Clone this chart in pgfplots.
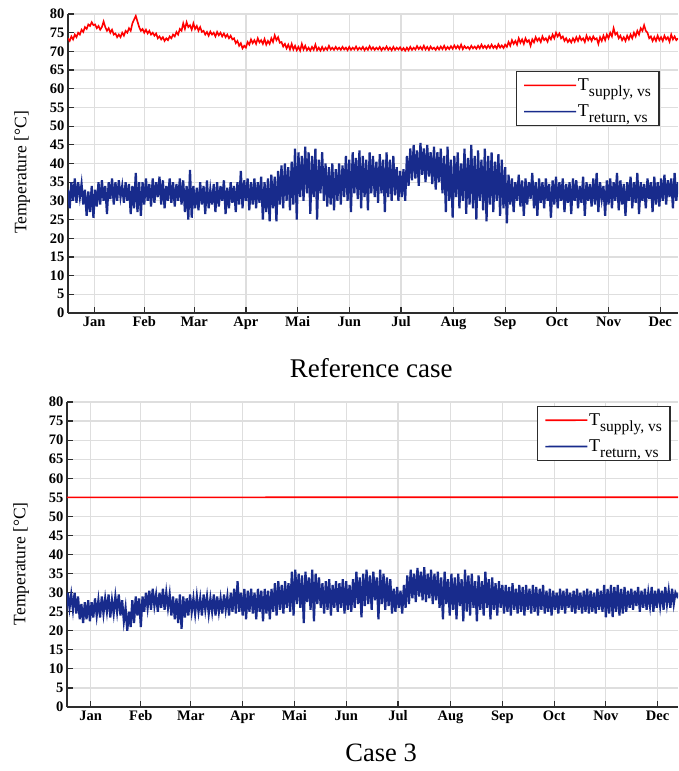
\documentclass[border=0pt]{standalone}
\usepackage{pgfplots}
\pgfplotsset{compat=1.18}
\usepackage{fontspec}
\setmainfont{Liberation Serif}

\definecolor{supred}{RGB}{255,0,0}
\definecolor{retblue}{RGB}{24,43,140}
\definecolor{gridgray}{RGB}{222,222,222}
\definecolor{axisgray}{RGB}{45,45,45}

\newcommand{\sub}[1]{\raisebox{-6pt}{\fontsize{15.5}{16}\selectfont #1}}

\pgfplotsset{
  tempaxis/.style={
    scale only axis,
    anchor=south west,
    ymin=0, ymax=80,
    ytick={0,5,...,80},
    xtick={15.5,45,74.5,105,135.5,166,196.5,227.5,258,288.5,319,349.5},
    xticklabels={Jan,Feb,Mar,Apr,Mai,Jun,Jul,Aug,Sep,Oct,Nov,Dec},
    axis x line*=bottom, axis y line*=left,
    axis line style={line width=1.3pt, draw=axisgray, -},
    tick align=inside, major tick length=6pt,
    tick style={line width=1.2pt, draw=axisgray},
    grid=major, grid style={line width=1.2pt, draw=gridgray},
    /pgf/number format/assume math mode=true,
    tick label style={font=\fontsize{14.5}{16}\selectfont\bfseries},
    ylabel={Temperature [°C]},
    ylabel style={font=\fontsize{17.5}{19}\selectfont, at={(axis description cs:-0.075,0.47)}, anchor=center, rotate=0},
    legend cell align=left,
    legend style={draw=axisgray, line width=1.3pt, fill=white,
      font=\fontsize{18}{19}\selectfont, inner xsep=7pt, inner ysep=6pt,
      row sep=11pt, nodes={inner sep=1pt}},
  },
}

\begin{document}
\begin{tikzpicture}
\path[use as bounding box] (0,0) rectangle (678pt,-771pt);

% Reference case
\begin{axis}[tempaxis,
  at={(68pt,-313pt)}, width=610pt, height=299pt,
  xmin=0, xmax=360,
  xlabel={Reference case},
  xlabel style={font=\fontsize{27}{30}\selectfont, at={(axis description cs:0.497,-0.215)}, anchor=base},
  legend image code/.code={\draw[#1, line width=1.6pt] (0pt,0pt) -- (52pt,0.1pt);},
  legend style={at={(axis description cs:0.734,0.809)}, anchor=north west},
]
\addplot[color=supred, line width=1.6pt] coordinates {
(0,73.5)(1,72.8)(2,74)(3,73.2)(4,74.5)(5,73.8)(6,75)(7,74.5)(8,75.8)(9,75.2)
(10,76.5)(11,76)(12,77.2)(13,76.8)(14,77.8)(15,77)(16,77.2)(17,76.2)(18,76.8)(19,75.8)
(20,76.5)(21,78)(22,76.5)(23,75.5)(24,76.2)(25,75)(26,75.8)(27,74.5)(28,74.8)(29,73.8)
(30,74.5)(31,73.8)(32,75)(33,74.2)(34,75.5)(35,75)(36,76.2)(37,75.5)(38,77.5)(39,78.5)
(40,79.5)(41,78)(42,76.5)(43,75.5)(44,76)(45,75)(46,75.8)(47,74.8)(48,75.5)(49,74.5)
(50,75)(51,74.2)(52,74.8)(53,73.5)(54,74)(55,73.2)(56,73.8)(57,72.8)(58,73.5)(59,73)
(60,74)(61,73.5)(62,74.5)(63,74)(64,75.2)(65,74.5)(66,76)(67,75.5)(68,77.5)(69,76)
(70,77.8)(71,76.5)(72,77)(73,75.8)(74,77.5)(75,76)(76,76.8)(77,75.5)(78,76.5)(79,75.2)
(80,75.5)(81,74.5)(82,75.2)(83,74.2)(84,75.3)(85,74.5)(86,75)(87,74)(88,75.2)(89,74.3)
(90,75)(91,74)(92,74.8)(93,73.8)(94,74.5)(95,73.5)(96,74.2)(97,73.2)(98,73.5)(99,72.2)
(100,72.8)(101,71.5)(102,72.2)(103,70.8)(104,71.5)(105,71)(106,72.5)(107,71.8)(108,73.2)(109,72.2)
(110,73)(111,72)(112,73.5)(113,72.4)(114,73)(115,72)(116,73.3)(117,71.8)(118,72.8)(119,72)
(120,73.5)(121,72.5)(122,74.3)(123,73)(124,73.8)(125,72.3)(126,72.5)(127,71.3)(128,72)(129,70.8)
(130,71.8)(131,70.5)(132,72)(133,70.5)(134,71.5)(135,70.3)(136,71.2)(137,70.2)(138,72)(139,70.5)
(140,71.5)(141,70.3)(142,71)(143,70.2)(144,71.2)(145,70.4)(146,71.8)(147,70.3)(148,71)(149,70.2)
(150,71.2)(151,70.3)(152,71)(153,70.4)(154,71.5)(155,70.5)(156,71)(157,70.4)(158,71.2)(159,70.5)
(160,71)(161,70.4)(162,71.2)(163,70.5)(164,71)(165,70.3)(166,71.2)(167,70.4)(168,71)(169,70.5)
(170,71.3)(171,70.4)(172,71)(173,70.5)(174,71.2)(175,70.3)(176,71)(177,70.4)(178,71.4)(179,70.5)
(180,71.1)(181,70.4)(182,71)(183,70.5)(184,71.2)(185,70.3)(186,71)(187,70.5)(188,71.3)(189,70.4)
(190,71)(191,70.3)(192,71.2)(193,70.4)(194,71)(195,70.5)(196,71.1)(197,70.3)(198,70.9)(199,70.2)
(200,71)(201,70.3)(202,71.2)(203,70.4)(204,71)(205,70.5)(206,71.4)(207,70.6)(208,71.2)(209,70.5)
(210,71.5)(211,70.5)(212,71.2)(213,70.4)(214,71.3)(215,70.6)(216,71)(217,70.4)(218,71.2)(219,70.5)
(220,71.3)(221,70.6)(222,71.5)(223,70.5)(224,71.2)(225,70.6)(226,71.4)(227,70.7)(228,71.6)(229,70.8)
(230,71.5)(231,70.7)(232,71.8)(233,70.6)(234,71.4)(235,70.8)(236,71.2)(237,70.6)(238,71.5)(239,70.8)
(240,71.3)(241,70.7)(242,71.5)(243,70.8)(244,71.8)(245,70.9)(246,71.5)(247,70.8)(248,71.6)(249,70.9)
(250,71.8)(251,70.9)(252,71.5)(253,70.8)(254,71.9)(255,71)(256,71.6)(257,70.9)(258,71.8)(259,71.2)
(260,72.5)(261,71.5)(262,73)(263,72)(264,72.8)(265,71.8)(266,73.5)(267,72.3)(268,73.2)(269,72)
(270,73.5)(271,72.5)(272,73)(273,71.5)(274,73.2)(275,72.4)(276,73.8)(277,72.8)(278,73.5)(279,72.5)
(280,74)(281,73)(282,73.5)(283,72.6)(284,74)(285,73.2)(286,74.5)(287,73.5)(288,75)(289,74)
(290,74.8)(291,73.5)(292,74)(293,72.8)(294,73.5)(295,72.5)(296,73.2)(297,72.4)(298,73.5)(299,72.6)
(300,73.8)(301,72.8)(302,74)(303,73)(304,73.5)(305,72.5)(306,74.2)(307,73)(308,73.8)(309,72.8)
(310,74)(311,73.2)(312,73.5)(313,72)(314,73.8)(315,72.8)(316,74.2)(317,73)(318,74.5)(319,73.5)
(320,75)(321,74)(322,76.2)(323,74.5)(324,75)(325,73.5)(326,74.2)(327,73)(328,73.8)(329,72.8)
(330,74.2)(331,73.2)(332,74.5)(333,73.5)(334,75)(335,74)(336,75.5)(337,74.5)(338,76.2)(339,75.5)
(340,77)(341,75.5)(342,75)(343,73.5)(344,74)(345,72.8)(346,73.8)(347,72.8)(348,74.2)(349,73)
(350,73.8)(351,72.8)(352,74.2)(353,73.2)(354,73.8)(355,72.6)(356,74.5)(357,73.2)(358,74)(359,73)
(360,73.5)
};
\addlegendentry{T\sub{supply, vs}}
\addplot[color=retblue, line width=2.2pt] coordinates {
(0,33)(1,28)(2,35)(3,30)(4,36)(5,29.5)(6,35)(7,31)(8,34.5)(9,29)
(10,33)(11,26)(12,32.5)(13,27)(14,34)(15,25.5)(16,33)(17,28.5)(18,35)(19,29)
(20,35.5)(21,30)(22,34)(23,26.5)(24,35)(25,30.5)(26,36)(27,29)(28,35)(29,30)
(30,35.5)(31,31)(32,34)(33,29.5)(34,35)(35,30)(36,34.5)(37,26.5)(38,34)(39,28)
(40,37.5)(41,27)(42,35)(43,26)(44,35)(45,29)(46,36)(47,30)(48,34.5)(49,28.5)
(50,36)(51,29.5)(52,35)(53,31)(54,36.5)(55,29)(56,35.5)(57,28)(58,34)(59,30)
(60,36)(61,29.5)(62,35)(63,28.5)(64,34.5)(65,30)(66,36)(67,29)(68,35.5)(69,27)
(70,34)(71,25)(72,38.3)(73,25.5)(74,34)(75,28)(76,33.5)(77,27.5)(78,35)(79,29)
(80,34)(81,26.5)(82,35.5)(83,28)(84,33)(85,29)(86,34.5)(87,27)(88,35)(89,28.5)
(90,34)(91,30)(92,35.5)(93,26.5)(94,33.5)(95,28)(96,35)(97,29.5)(98,34)(99,27)
(100,35)(101,29)(102,38)(103,28)(104,35.5)(105,30)(106,36)(107,27.5)(108,35)(109,29)
(110,36)(111,28)(112,35)(113,29.5)(114,36.5)(115,25)(116,35)(117,27)(118,36)(119,24.5)
(120,37)(121,28)(122,36.5)(123,24.5)(124,38)(125,29)(126,39.5)(127,28)(128,40)(129,30)
(130,39)(131,27.5)(132,40.5)(133,29)(134,44)(135,25)(136,43)(137,31)(138,42)(139,30)
(140,44.5)(141,32)(142,43)(143,26.5)(144,42)(145,31)(146,44)(147,25)(148,41)(149,32)
(150,43)(151,30)(152,40)(153,28.5)(154,39)(155,29)(156,40)(157,27.5)(158,38.5)(159,30)
(160,40)(161,29)(162,39.5)(163,31)(164,42)(165,30)(166,41)(167,27)(168,43)(169,32)
(170,41.5)(171,30.5)(172,43.5)(173,28)(174,42)(175,31)(176,41)(177,27.5)(178,43)(179,32)
(180,42)(181,31)(182,40.5)(183,29.5)(184,42.5)(185,32)(186,41)(187,27)(188,43)(189,31)
(190,41)(191,30)(192,42)(193,31.5)(194,39)(195,30)(196,38)(197,31)(198,38.5)(199,30)
(200,42)(201,34)(202,44)(203,35.5)(204,45)(205,36)(206,43.5)(207,34)(208,45.5)(209,37)
(210,44)(211,35)(212,45)(213,36.5)(214,43)(215,34.5)(216,44.5)(217,33)(218,43)(219,35)
(220,44)(221,32)(222,42)(223,27)(224,44.5)(225,30)(226,41)(227,25.5)(228,42)(229,31)
(230,43)(231,28)(232,40)(233,30)(234,44)(235,26.5)(236,41.5)(237,29)(238,45)(239,28)
(240,42)(241,25)(242,43.5)(243,30)(244,41)(245,27.5)(246,44)(247,24.5)(248,42)(249,29)
(250,43)(251,27)(252,40.5)(253,30)(254,42.5)(255,26)(256,41)(257,28)(258,39)(259,24)
(260,37)(261,29)(262,36)(263,27)(264,35)(265,30)(266,37)(267,28.5)(268,35.5)(269,26)
(270,36)(271,29)(272,35)(273,30.5)(274,37.5)(275,28)(276,35)(277,26)(278,36)(279,29.5)
(280,35)(281,28)(282,36)(283,30)(284,34.5)(285,25.5)(286,35.5)(287,29)(288,36.5)(289,28)
(290,35)(291,30)(292,36)(293,27)(294,34.5)(295,29.5)(296,35)(297,26.5)(298,36)(299,30)
(300,35.5)(301,28)(302,34)(303,29.5)(304,36.5)(305,26)(306,35)(307,30)(308,34.5)(309,28.5)
(310,36)(311,29)(312,37.5)(313,27)(314,35)(315,30.5)(316,34)(317,26)(318,35.5)(319,29)
(320,36)(321,28)(322,35)(323,30)(324,37.5)(325,27.5)(326,35.5)(327,29)(328,34.5)(329,26)
(330,35)(331,30)(332,36.5)(333,28)(334,35)(335,29.5)(336,37.5)(337,26.5)(338,35)(339,30)
(340,34.5)(341,28)(342,36)(343,30.5)(344,35)(345,27)(346,36.5)(347,29)(348,35)(349,28.5)
(350,36)(351,30)(352,37)(353,29)(354,35.5)(355,31)(356,36)(357,28)(358,37.5)(359,30)
(360,35)
};
\addlegendentry{T\sub{return, vs}}
\end{axis}

% Case 3
\begin{axis}[tempaxis,
  at={(67pt,-707pt)}, width=611pt, height=305pt,
  xmin=1.5, xmax=361.5,
  xlabel={Case 3},
  xlabel style={font=\fontsize{26.5}{30}\selectfont, at={(axis description cs:0.514,-0.179)}, anchor=base},
  legend image code/.code={\draw[#1, line width=1.6pt] (0pt,0pt) -- (42pt,0.1pt);},
  legend style={at={(axis description cs:0.769,0.987)}, anchor=north west},
]
\addplot[color=supred, line width=1.6pt] coordinates {(0,55) (362,55.02)};
\addlegendentry{T\sub{supply, vs}}
\addplot[color=retblue, line width=2.2pt] coordinates {
(0,29.5)(1,25)(2,30)(3,26)(4,29.5)(5,25.5)(6,30)(7,24.5)(8,29)(9,23)
(10,27)(11,22)(12,27.5)(13,23)(14,28)(15,22.5)(16,27.5)(17,23.5)(18,28.5)(19,24)
(20,28)(21,23.5)(22,29)(23,24.5)(24,28.5)(25,25)(26,29.5)(27,23.5)(28,28)(29,24.5)
(30,29)(31,25)(32,29.5)(33,24)(34,28)(35,22.5)(36,26)(37,20)(38,25)(39,21)
(40,28)(41,22)(42,29)(43,24)(44,28.5)(45,21)(46,29)(47,25)(48,30)(49,26)
(50,30.5)(51,25.5)(52,31)(53,26.5)(54,29.5)(55,25)(56,30)(57,26)(58,31)(59,25.5)
(60,30)(61,26)(62,29.5)(63,24)(64,29)(65,23)(66,28.5)(67,22)(68,29.5)(69,20.5)
(70,29)(71,23.5)(72,28.5)(73,24)(74,29.5)(75,25)(76,28.5)(77,24.5)(78,29)(79,25)
(80,28.5)(81,24)(82,29.5)(83,25.5)(84,29)(85,24.5)(86,28.5)(87,25)(88,29.5)(89,24)
(90,29)(91,25)(92,28.5)(93,24.5)(94,29.5)(95,25.5)(96,29)(97,24)(98,30)(99,25)
(100,31)(101,24.5)(102,33)(103,25)(104,30)(105,24)(106,31)(107,23)(108,30.5)(109,25)
(110,31)(111,24.5)(112,30)(113,23)(114,31)(115,25)(116,30.5)(117,22.5)(118,31)(119,24.5)
(120,30.5)(121,23)(122,31)(123,25)(124,32.5)(125,24)(126,33)(127,25.5)(128,32)(129,24.5)
(130,33)(131,26)(132,32.5)(133,25)(134,35.5)(135,24)(136,36)(137,27)(138,35)(139,26)
(140,34.5)(141,22)(142,35.5)(143,27.5)(144,34)(145,25.5)(146,36)(147,22.5)(148,35)(149,27)
(150,34)(151,26)(152,32.5)(153,24.5)(154,33)(155,25.5)(156,33.5)(157,24)(158,32)(159,26)
(160,33)(161,25)(162,32.5)(163,26)(164,33.5)(165,24.5)(166,33)(167,25.5)(168,32)(169,25)
(170,33.5)(171,26)(172,35.5)(173,27)(174,34)(175,23.5)(176,35)(177,26.5)(178,36)(179,27)
(180,34.5)(181,25.5)(182,35.5)(183,28)(184,34)(185,23)(186,36)(187,27)(188,35)(189,25.5)
(190,34)(191,26.5)(192,33.5)(193,24.5)(194,31)(195,25)(196,31.5)(197,26)(198,30.5)(199,24.5)
(200,32)(201,26)(202,34.5)(203,27)(204,36)(205,28.5)(206,35)(207,27.5)(208,36.5)(209,29)
(210,35.5)(211,28)(212,36.7)(213,27.5)(214,35)(215,28.5)(216,36)(217,27)(218,35)(219,28)
(220,35.5)(221,26)(222,34)(223,23)(224,35.5)(225,27)(226,33.5)(227,24)(228,35)(229,25.5)
(230,34)(231,23)(232,35)(233,26.5)(234,33.5)(235,22.5)(236,36)(237,25)(238,34.5)(239,24)
(240,35)(241,26)(242,33)(243,22.5)(244,34.5)(245,25.5)(246,33)(247,24)(248,35.5)(249,26)
(250,33.5)(251,23)(252,34)(253,25.5)(254,32.5)(255,24)(256,33)(257,26)(258,32)(259,24.5)
(260,32)(261,25)(262,31.5)(263,24)(264,32.5)(265,25.5)(266,31)(267,24.5)(268,32)(269,25)
(270,31.5)(271,24)(272,32)(273,25.5)(274,31)(275,24.5)(276,32)(277,25)(278,31.5)(279,24)
(280,31)(281,25.5)(282,32)(283,24.5)(284,30.5)(285,25)(286,31)(287,24)(288,30.5)(289,25.5)
(290,30)(291,24.5)(292,31)(293,25.5)(294,30.5)(295,24.5)(296,31)(297,26)(298,30)(299,25)
(300,30.5)(301,24.5)(302,31)(303,25.5)(304,30)(305,24.5)(306,30.5)(307,25)(308,31)(309,24.5)
(310,30.5)(311,25)(312,30)(313,24.5)(314,31)(315,25.5)(316,30.5)(317,25)(318,32)(319,23.5)
(320,31)(321,24.5)(322,32)(323,23.6)(324,31.5)(325,25)(326,32)(327,24)(328,31)(329,24.5)
(330,31.5)(331,25)(332,30.5)(333,26)(334,31)(335,25.5)(336,30.5)(337,26.5)(338,31.5)(339,25)
(340,30.5)(341,26)(342,31)(343,25.5)(344,30)(345,26.5)(346,31.5)(347,25)(348,30.5)(349,26)
(350,31)(351,26.5)(352,30.5)(353,25.5)(354,31.5)(355,27)(356,30.5)(357,26)(358,31)(359,27)
(360,30)(361,29)(362,30)
};
\addlegendentry{T\sub{return, vs}}
\end{axis}
\end{tikzpicture}
\end{document}
